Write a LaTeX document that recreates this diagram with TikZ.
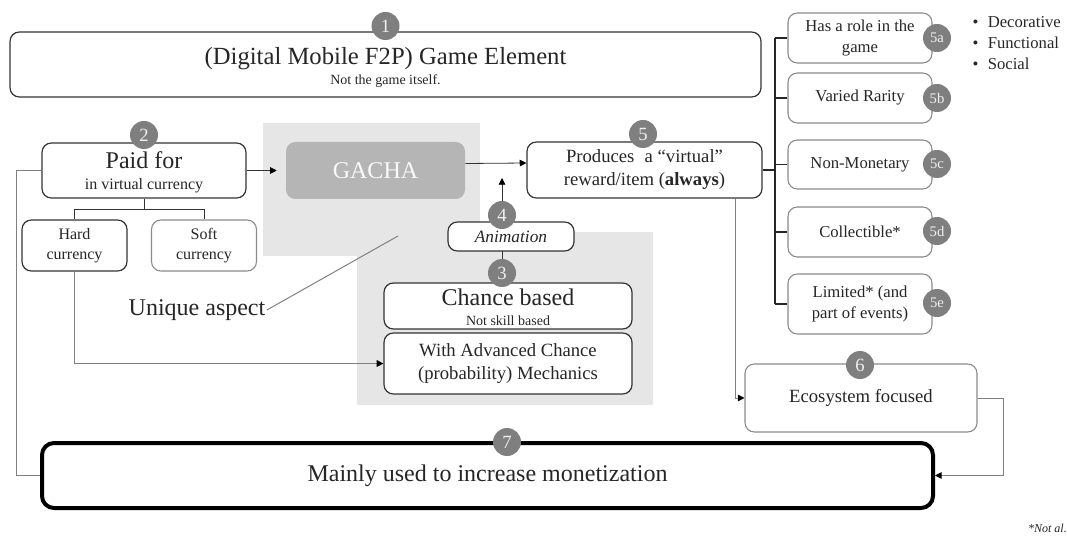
\documentclass[tikz,border=0pt]{standalone}
\usepackage{fontspec}
\setmainfont{Liberation Serif}
\usetikzlibrary{arrows.meta}
\newcommand\fsz[2]{\fontsize{#1}{#2}\selectfont}
\definecolor{edge}{HTML}{333333}
\definecolor{lightedge}{HTML}{8A8A8A}
\definecolor{regiongray}{HTML}{E6E6E6}
\definecolor{gachafill}{HTML}{B5B5B5}
\definecolor{badgegray}{HTML}{7F7F7F}
\definecolor{ink}{HTML}{262626}
\pgfdeclarelayer{back}\pgfdeclarelayer{mid}
\pgfsetlayers{back,mid,main}
\begin{document}
\begin{tikzpicture}[x=0.75pt,y=-0.75pt,
 box/.style={draw=edge, line width=0.9pt, rounded corners=7pt, fill=white, inner sep=0pt, text=ink},
 lbox/.style={box, draw=lightedge, line width=0.8pt},
 badge/.style={circle, fill=badgegray, inner sep=0pt, minimum size=21pt, text=white!88!badgegray, font=\fsz{14}{14}},
 sbadge/.style={badge, font=\fsz{11}{11}},
 txt/.style={inner sep=1pt, text=ink},
 conn/.style={draw=black!80, line width=0.6pt},
 gconn/.style={draw=black!50, line width=0.75pt},
 arrowtip/.style={-{Triangle[length=5pt,width=5pt,color=black]}},
 bus/.style={draw=black!85, line width=1.1pt},
]
\useasboundingbox (0,0) rectangle (1067,538);

\begin{pgfonlayer}{back}
\fill[regiongray] (263,123) rectangle (480,256);
\fill[regiongray] (357,232) rectangle (653,405);
\end{pgfonlayer}

% 1
\node[box, minimum width=563.25pt, minimum height=48.75pt] (n1) at (385.5,64.5) {};
\node[txt, font=\fsz{18.5}{20}] (n1t) at (385.5,59) {(Digital Mobile F2P) Game Element};
\node[txt, font=\fsz{10.5}{12}] (n1s) at (385.5,81) {Not the game itself.};
\node[badge] (c1) at (385.5,26) {1};

% 2
\node[box, minimum width=153pt, minimum height=41.25pt] (n2) at (144,170.5) {};
\node[txt, font=\fsz{18}{20}] (n2t) at (144,160) {Paid for};
\node[txt, font=\fsz{12}{14}] (n2s) at (144,186) {in virtual currency};
\node[badge] (c2) at (144,135) {2};

\node[box, minimum width=78.75pt, minimum height=38.25pt, align=center, font=\fsz{12}{15}] (hard) at (74.5,245.5) {Hard\\currency};
\node[lbox, minimum width=78.75pt, minimum height=38.25pt, align=center, font=\fsz{12}{15}] (soft) at (204,245.5) {Soft\\currency};

% gacha
\node[rounded corners=7pt, fill=gachafill, minimum width=134.25pt, minimum height=42.75pt, text=white!92!gachafill, font=\fsz{18}{20}] (gacha) at (375.5,170.5) {GACHA};

% 4, 3
\node[box, minimum width=94.5pt, minimum height=21.75pt, font=\fsz{13}{15}\itshape] (anim) at (511,236.5) {Animation};
\node[box, minimum width=186pt, minimum height=34.5pt] (chance) at (508,306) {};
\node[txt, font=\fsz{18}{20}] (chancet) at (508,297) {Chance based};
\node[txt, font=\fsz{10.5}{12}] (chances) at (508,321) {Not skill based};
\node[box, minimum width=186pt, minimum height=45.75pt, align=center, font=\fsz{14}{17.25}] (adv) at (508,363.5) {With Advanced Chance\\(probability) Mechanics};
\node[badge] (c4) at (502,215) {4};
\node[badge] (c3) at (502,273) {3};

\node[txt, font=\fsz{18}{20}] (ua) at (197,310) {Unique aspect};

% 5
\node[box, minimum width=176.25pt, minimum height=42pt, align=center, font=\fsz{14}{17.25}] (prod) at (644.5,170) {Produces\hspace{0.3em} a “virtual”\\reward/item (\textbf{always})};
\node[badge] (c5) at (643,134) {5};

\node[lbox, minimum width=108pt, minimum height=37.5pt, align=center, font=\fsz{12.5}{15.75}] (b5a) at (860,38) {Has a role in the\\game};
\node[lbox, minimum width=108pt, minimum height=37.5pt, align=center, font=\fsz{12.5}{15.75}] (b5b) at (860,98) {Varied Rarity};
\node[lbox, minimum width=108pt, minimum height=36.75pt, align=center, font=\fsz{12.5}{15.75}] (b5c) at (860,164.5) {Non-Monetary};
\node[lbox, minimum width=108pt, minimum height=37.5pt, align=center, font=\fsz{12.5}{15.75}] (b5d) at (860,232) {Collectible*};
\node[lbox, minimum width=108pt, minimum height=45pt, align=center, font=\fsz{12.5}{15.75}] (b5e) at (860,304) {Limited* (and\\part of events)};
\node[sbadge] (c5a) at (937,38) {5a};
\node[sbadge] (c5b) at (937,98) {5b};
\node[sbadge] (c5c) at (937,164) {5c};
\node[sbadge] (c5d) at (937,231) {5d};
\node[sbadge] (c5e) at (937,303) {5e};

\node[txt, anchor=west, align=left, font=\fsz{12.5}{15.75}] (bul) at (971,43) {•\hspace{7pt}Decorative\\•\hspace{7pt}Functional\\•\hspace{7pt}Social};

% 6
\node[lbox, minimum width=174pt, minimum height=51pt, font=\fsz{14}{16}] (eco) at (861,398) {Ecosystem focused};
\node[badge] (c6) at (860,365) {6};

% 7
\node[box, draw=black, line width=3pt, rounded corners=9pt, minimum width=668.25pt, minimum height=48.75pt, font=\fsz{18}{20}] (n7) at (487.5,475.5) {Mainly used to increase monetization};
\node[badge] (c7) at (507,442) {7};

\node[txt, anchor=east, inner sep=0pt, font=\fsz{9}{10}\itshape] (note) at (1067,528) {*Not al.};

\coordinate (t4) at (502,178);
\coordinate (uaend) at (398,236);
\coordinate (busx) at (775,0);

\begin{pgfonlayer}{mid}
\draw[conn, arrowtip] (n2.east) -- ([xshift=-6.75pt]gacha.west);
\draw[conn, arrowtip] ([yshift=5.25pt]gacha.east) -- ([yshift=5.25pt]prod.west);
\draw[conn, arrowtip] (c4.center) -- (t4);
\draw[conn] (c4.center) -- (c3.center);
\draw[conn] (n2.south) -- ++(0,11) -| (hard.north);
\draw[conn] (n2.south) -- ++(0,11) -| (soft.north);
\draw[gconn, arrowtip] (hard.south) |- (adv.west);
\draw[gconn] (ua.east) -- (uaend);
\draw[gconn] (n2.west) -- ++(-25,0) |- (n7.west);
\draw[bus] (prod.east) -- (prod.east -| busx);
\draw[bus] (b5a.west -| busx) -- (b5e.west -| busx);
\foreach \b in {b5a,b5b,b5c,b5d,b5e} {\draw[bus] (\b.west) -- (\b.west -| busx);}
\draw[gconn, arrowtip] ([xshift=67.9pt]prod.south) |- (eco.west);
\draw[gconn, arrowtip] (eco.east) -- ++(26,0) |- (n7.east);
\end{pgfonlayer}
\end{tikzpicture}
\end{document}
